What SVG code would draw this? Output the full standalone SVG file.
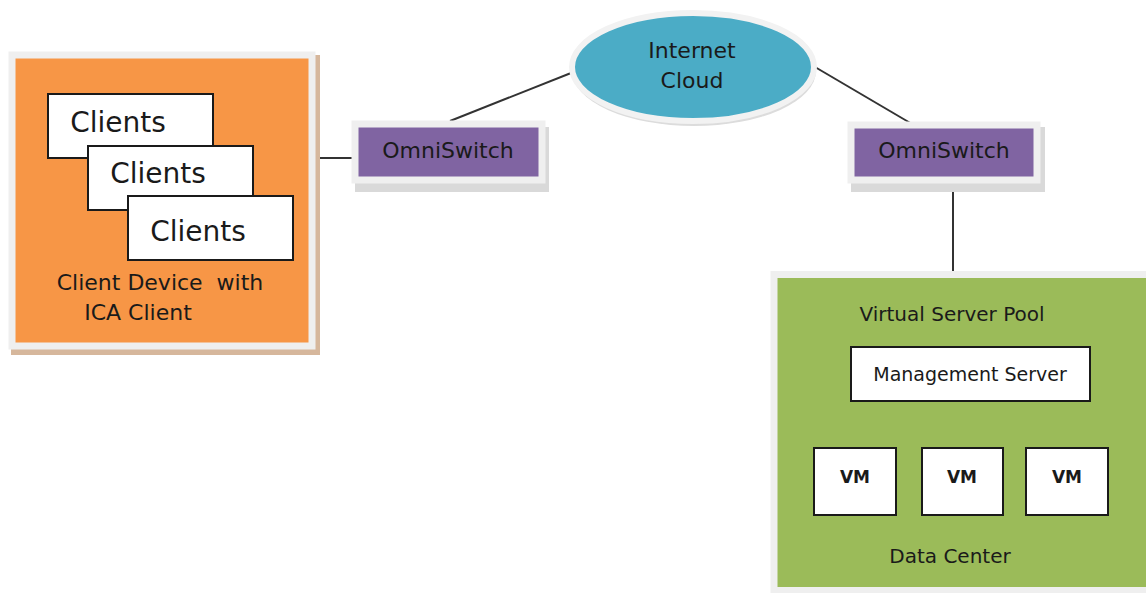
<svg xmlns="http://www.w3.org/2000/svg" width="1146" height="593" viewBox="0 0 1146 593">
<defs>
<style>
text{font-family:"DejaVu Sans","Liberation Sans",sans-serif;fill:#1a1a1a;text-anchor:middle}
.frame{stroke:#efefef;stroke-width:7}
.box{fill:#fff;stroke:#1a1a1a;stroke-width:2}
.conn{stroke:#333;stroke-width:2;fill:none}
.shadow{fill:#d9d9d9}
</style>
</defs>
<rect width="1146" height="593" fill="#fff"/>
<g id="connectors">
<line class="conn" x1="312" y1="158" x2="352" y2="158"/>
<line class="conn" x1="450" y1="121" x2="571" y2="73"/>
<line class="conn" x1="815" y1="67" x2="912" y2="124"/>
<line class="conn" x1="953" y1="180" x2="953" y2="276"/>
</g>
<g id="client-device">
<rect x="11" y="55" width="309" height="300" fill="#d6b79c"/>
<rect x="12" y="55" width="300" height="291" fill="#f79646" class="frame"/>
<g id="clients1"><rect class="box" x="48" y="94" width="165" height="64"/><text x="118" y="132" font-size="28">Clients</text></g>
<g id="clients2"><rect class="box" x="88" y="146" width="165" height="64"/><text x="158" y="183" font-size="28">Clients</text></g>
<g id="clients3"><rect class="box" x="128" y="196" width="165" height="64"/><text x="198" y="241" font-size="28">Clients</text></g>
<text x="160" y="290" font-size="22" xml:space="preserve">Client Device  with</text>
<text x="138" y="320" font-size="22">ICA Client</text>
</g>
<g id="omniswitch-left">
<rect class="shadow" x="355" y="127" width="194" height="65"/>
<rect x="355" y="124" width="187" height="56" fill="#8064a2" class="frame"/>
<text x="448" y="158" font-size="22">OmniSwitch</text>
</g>
<g id="internet-cloud">
<ellipse cx="694" cy="71" rx="122" ry="55" fill="#dcdcdc"/>
<ellipse cx="693" cy="67" rx="121" ry="54" fill="#4bacc6" stroke="#f2f2f2" stroke-width="6"/>
<text x="692" y="58" font-size="22">Internet</text>
<text x="692" y="88" font-size="22">Cloud</text>
</g>
<g id="omniswitch-right">
<rect class="shadow" x="851" y="127" width="194" height="65"/>
<rect x="851" y="125" width="186" height="55" fill="#8064a2" class="frame"/>
<text x="944" y="158" font-size="22">OmniSwitch</text>
</g>
<g id="data-center">
<rect x="774" y="274.5" width="380" height="316" fill="#9bbb59" class="frame"/>
<text x="952" y="321" font-size="20">Virtual Server Pool</text>
<g id="management-server"><rect class="box" x="851" y="347" width="239" height="54"/><text x="970" y="381" font-size="19">Management Server</text></g>
<g id="vm1"><rect class="box" x="814" y="448" width="82" height="67"/><text x="855" y="483" font-size="17" font-weight="bold">VM</text></g>
<g id="vm2"><rect class="box" x="922" y="448" width="81" height="67"/><text x="962" y="483" font-size="17" font-weight="bold">VM</text></g>
<g id="vm3"><rect class="box" x="1026" y="448" width="82" height="67"/><text x="1067" y="483" font-size="17" font-weight="bold">VM</text></g>
<text x="950" y="563" font-size="20">Data Center</text>
</g>
</svg>
